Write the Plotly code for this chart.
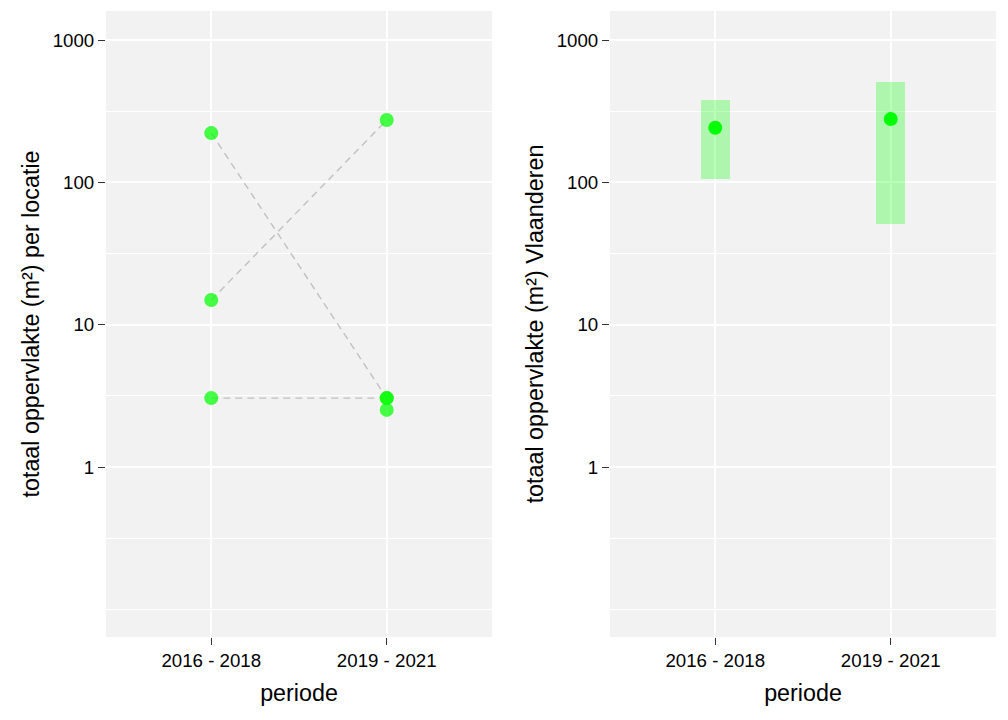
import plotly.graph_objects as go

# ---- data ----
periods = ["2016 - 2018", "2019 - 2021"]
# per location values (m²) for each period; None = no value
loc_a = [222, 3.05]
loc_b = [14.9, 274]
loc_c = [3.05, 3.05]
loc_d = [None, 2.52]
locations = [loc_a, loc_b, loc_c, loc_d]

# Flanders totals (estimate and interval)
vl_est = [242, 279]
vl_low = [106, 51.2]
vl_high = [379, 507]

y_ticks = [1, 10, 100, 1000]
y_minor = [0.1, 0.316, 3.16, 31.6, 316]

fig = go.Figure()

# left panel: dashed connecting lines
for loc in locations:
    fig.add_trace(go.Scatter(
        x=periods, y=loc, mode="lines", xaxis="x", yaxis="y",
        line=dict(color="#c0c0c0", width=1.4, dash="7px,5px"),
        hoverinfo="skip", showlegend=False))
# left panel: points
for loc in locations:
    fig.add_trace(go.Scatter(
        x=periods, y=loc, mode="markers", xaxis="x", yaxis="y",
        marker=dict(color="rgba(0,255,0,0.72)", size=14, line=dict(width=0)),
        showlegend=False))

# right panel: interval bars
fig.add_trace(go.Bar(
    x=periods, base=vl_low, y=[h - l for h, l in zip(vl_high, vl_low)],
    xaxis="x2", yaxis="y2", width=0.165,
    marker=dict(color="rgba(0,255,0,0.28)", line=dict(width=0)),
    showlegend=False))
fig.add_trace(go.Scatter(
    x=periods, y=vl_est, mode="markers", xaxis="x2", yaxis="y2",
    marker=dict(color="#00ff00", size=14, line=dict(width=0)),
    showlegend=False))

W, H = 1008, 720
yr = [-1.194, 3.204]
FONT = "Liberation Sans, Arial"
xaxis_common = dict(
    type="category", range=[-0.6, 1.6], showgrid=True, gridcolor="white",
    gridwidth=1.6, zeroline=False, showline=False,
    ticks="outside", ticklen=7, tickwidth=1.4, tickcolor="#333333",
    tickfont=dict(family=FONT, size=18.7, color="black"),
    title=dict(text="periode", font=dict(family=FONT, size=23.3, color="black"), standoff=14),
    fixedrange=True,
)
yaxis_common = dict(
    type="log", range=yr, tickvals=y_ticks, ticktext=[str(v) for v in y_ticks],
    showgrid=True, gridcolor="white", gridwidth=1.6, zeroline=False, showline=False,
    ticks="outside", ticklen=7, tickwidth=1.4, tickcolor="#333333",
    tickfont=dict(family=FONT, size=18.7, color="black"),
    minor=dict(tickvals=y_minor, showgrid=True, gridcolor="white", gridwidth=0.9, ticks=""),
    fixedrange=True,
)

fig.update_layout(
    width=W, height=H,
    margin=dict(l=0, r=0, t=0, b=0),
    paper_bgcolor="white", plot_bgcolor="#f2f2f2",
    showlegend=False,
    xaxis=dict(xaxis_common, domain=[106 / W, 492 / W], anchor="y"),
    xaxis2=dict(xaxis_common, domain=[610 / W, 996 / W], anchor="y2"),
    yaxis=dict(yaxis_common, domain=[1 - 637 / H, 1 - 11 / H], anchor="x",
               title=dict(text="totaal oppervlakte (m²) per locatie",
                          font=dict(family=FONT, size=23.3, color="black"), standoff=6)),
    yaxis2=dict(yaxis_common, domain=[1 - 637 / H, 1 - 11 / H], anchor="x2",
                title=dict(text="totaal oppervlakte (m²) Vlaanderen",
                           font=dict(family=FONT, size=23.3, color="black"), standoff=6)),
    bargap=0,
)

fig.write_html("out.html", post_script="document.body.style.margin='0';",
               config={"displayModeBar": False})
